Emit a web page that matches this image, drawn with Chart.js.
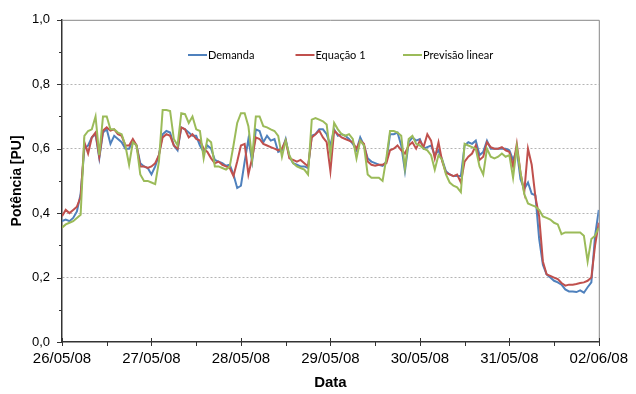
<!DOCTYPE html>
<html>
<head>
<meta charset="utf-8">
<script src="https://cdn.jsdelivr.net/npm/chart.js@4/dist/chart.umd.min.js"></script>
<style>
  body { margin: 0; background: #ffffff; }
  #wrap { width: 636px; height: 394px; }
</style>
</head>
<body>
<div id="wrap"><canvas id="chart0" width="636" height="394"></canvas></div>
<script>
// tick labels, one per day (24 h)
const dateLabels = ['26/05/08', '27/05/08', '28/05/08', '29/05/08', '30/05/08', '31/05/08', '02/06/08'];

// hourly time index
const hours = Array.from({ length: 145 }, (_, i) => i);

const demanda = [
    0.375, 0.38, 0.375, 0.385, 0.405, 0.46, 0.60, 0.61, 0.635, 0.645, 0.57, 0.65, 0.66, 0.615, 0.64, 0.63, 0.62, 0.60, 0.60, 0.625, 0.61, 0.555, 0.545, 0.54,
    0.52, 0.545, 0.58, 0.645, 0.655, 0.65, 0.61, 0.595, 0.666, 0.66, 0.65, 0.64, 0.64, 0.61, 0.59, 0.61, 0.60, 0.565, 0.56, 0.555, 0.547, 0.55, 0.52, 0.478,
    0.485, 0.56, 0.63, 0.56, 0.66, 0.655, 0.62, 0.64, 0.625, 0.63, 0.59, 0.595, 0.63, 0.575, 0.555, 0.55, 0.545, 0.545, 0.54, 0.64, 0.645, 0.66, 0.66, 0.645,
    0.61, 0.66, 0.64, 0.645, 0.64, 0.63, 0.615, 0.595, 0.635, 0.61, 0.57, 0.56, 0.555, 0.55, 0.547, 0.56, 0.645, 0.645, 0.65, 0.61, 0.53, 0.62, 0.635, 0.625,
    0.63, 0.60, 0.605, 0.61, 0.58, 0.595, 0.565, 0.53, 0.52, 0.515, 0.515, 0.515, 0.61, 0.62, 0.615, 0.625, 0.58, 0.59, 0.625, 0.60, 0.60, 0.60, 0.60, 0.60,
    0.595, 0.565, 0.595, 0.505, 0.475, 0.495, 0.46, 0.455, 0.32, 0.24, 0.21, 0.20, 0.19, 0.185, 0.178, 0.163, 0.157, 0.157, 0.155, 0.16, 0.153, 0.17, 0.185, 0.33, 0.41
];

const equacao1 = [
    0.39, 0.41, 0.40, 0.41, 0.42, 0.45, 0.62, 0.585, 0.635, 0.65, 0.575, 0.656, 0.666, 0.656, 0.66, 0.645, 0.64, 0.61, 0.61, 0.63, 0.61, 0.545, 0.545, 0.54,
    0.545, 0.555, 0.58, 0.635, 0.645, 0.64, 0.61, 0.60, 0.666, 0.66, 0.635, 0.645, 0.63, 0.625, 0.60, 0.59, 0.57, 0.555, 0.56, 0.55, 0.545, 0.54, 0.515, 0.56,
    0.61, 0.615, 0.52, 0.57, 0.635, 0.63, 0.615, 0.61, 0.605, 0.60, 0.595, 0.60, 0.625, 0.57, 0.565, 0.56, 0.565, 0.555, 0.545, 0.635, 0.645, 0.656, 0.635, 0.62,
    0.53, 0.656, 0.645, 0.635, 0.63, 0.625, 0.62, 0.60, 0.625, 0.615, 0.56, 0.55, 0.547, 0.55, 0.55, 0.555, 0.595, 0.60, 0.61, 0.595, 0.585, 0.61, 0.62, 0.60,
    0.625, 0.605, 0.645, 0.625, 0.57, 0.62, 0.56, 0.525, 0.52, 0.515, 0.52, 0.495, 0.56, 0.575, 0.585, 0.61, 0.565, 0.575, 0.62, 0.605, 0.60, 0.60, 0.605, 0.595,
    0.59, 0.545, 0.615, 0.525, 0.465, 0.60, 0.55, 0.45, 0.39, 0.25, 0.21, 0.205, 0.20, 0.195, 0.183, 0.175, 0.178, 0.178, 0.18, 0.183, 0.185, 0.19, 0.20, 0.30, 0.37
];

const previsaoLinear = [
    0.355, 0.365, 0.37, 0.375, 0.385, 0.395, 0.64, 0.655, 0.66, 0.70, 0.58, 0.70, 0.70, 0.66, 0.66, 0.65, 0.645, 0.61, 0.55, 0.62, 0.61, 0.52, 0.50, 0.50,
    0.495, 0.49, 0.56, 0.72, 0.72, 0.717, 0.63, 0.61, 0.71, 0.707, 0.68, 0.70, 0.66, 0.655, 0.57, 0.63, 0.62, 0.545, 0.545, 0.54, 0.535, 0.545, 0.61, 0.68,
    0.71, 0.71, 0.67, 0.57, 0.70, 0.70, 0.67, 0.666, 0.66, 0.655, 0.64, 0.575, 0.625, 0.58, 0.555, 0.545, 0.54, 0.535, 0.52, 0.69, 0.695, 0.69, 0.685, 0.675,
    0.58, 0.68, 0.66, 0.645, 0.64, 0.645, 0.63, 0.57, 0.625, 0.61, 0.52, 0.51, 0.51, 0.51, 0.50, 0.57, 0.655, 0.655, 0.65, 0.64, 0.54, 0.63, 0.64, 0.615,
    0.61, 0.60, 0.595, 0.58, 0.535, 0.58, 0.565, 0.52, 0.495, 0.485, 0.48, 0.465, 0.615, 0.61, 0.605, 0.60, 0.545, 0.52, 0.60, 0.575, 0.57, 0.575, 0.585, 0.575,
    0.58, 0.51, 0.605, 0.525, 0.46, 0.43, 0.425, 0.42, 0.41, 0.39, 0.385, 0.38, 0.37, 0.365, 0.335, 0.34, 0.34, 0.34, 0.34, 0.34, 0.33, 0.25, 0.32, 0.33, 0.355
];

const seriesLabels = ['Demanda', 'Equação 1', 'Previsão linear'];
const seriesColors = ['#4f81bd', '#c0504d', '#9bbb59'];

// legend drawn inside the plot area, like the excel one
const insideLegend = {
    id: 'insideLegend',
    afterDraw(chart) {
        const ctx = chart.ctx;
        ctx.save();
        ctx.font = '11px Lato';
        ctx.textBaseline = 'middle';
        chart.data.datasets.forEach((ds, i) => {
            const x = 188 + i * 107.5;
            const y = 55;
            ctx.strokeStyle = ds.borderColor;
            ctx.lineWidth = 2;
            ctx.beginPath();
            ctx.moveTo(x, y);
            ctx.lineTo(x + 19, y);
            ctx.stroke();
            ctx.fillStyle = '#000000';
            ctx.fillText(ds.label, x + 20, y + 0.5);
        });
        ctx.restore();
    }
};

// top/right frame and the tick marks (major + minor)
const frame = {
    id: 'frame',
    beforeDatasetsDraw(chart) {
        const { ctx, chartArea: a, scales: { x, y } } = chart;
        ctx.save();
        ctx.strokeStyle = '#868686';
        ctx.lineWidth = 1;
        ctx.beginPath();
        ctx.moveTo(a.left, a.top + 0.5);
        ctx.lineTo(a.right + 0.5, a.top + 0.5);
        ctx.lineTo(a.right + 0.5, a.bottom);
        ctx.stroke();

        ctx.strokeStyle = '#333333';
        ctx.beginPath();
        for (let k = 0; k <= 10; k++) {
            const py = Math.round(y.getPixelForValue(k / 10)) + 0.5;
            ctx.moveTo(a.left - (k % 2 === 0 ? 5 : 3), py);
            ctx.lineTo(a.left, py);
        }
        for (let h = 0; h <= 144; h += 12) {
            const px = Math.round(x.getPixelForValue(h)) + 0.5;
            ctx.moveTo(px, a.bottom - (h % 24 === 0 ? 4 : 0));
            ctx.lineTo(px, a.bottom + 4);
        }
        ctx.stroke();
        ctx.restore();
    }
};

function createChart() {
    const ctx = document.getElementById('chart0').getContext('2d');
    const values = [demanda, equacao1, previsaoLinear];
    return new Chart(ctx, {
        type: 'line',
        data: {
            labels: hours,
            datasets: values.map((v, i) => ({
                label: seriesLabels[i],
                data: v,
                borderColor: seriesColors[i],
                backgroundColor: seriesColors[i],
                borderWidth: 2,
                pointRadius: 0,
                tension: 0,
                order: 3 - i,
            })),
        },
        options: {
            responsive: false,
            devicePixelRatio: 1,
            animation: false,
            layout: { padding: { top: 14, right: 29, bottom: 0, left: 0 } },
            plugins: {
                legend: { display: false },
                tooltip: { enabled: false },
            },
            scales: {
                x: {
                    type: 'linear',
                    min: 0,
                    max: 144,
                    afterFit: (s) => { s.height = 52; },
                    ticks: {
                        stepSize: 24,
                        autoSkip: false,
                        maxRotation: 0,
                        padding: 8,
                        color: '#000000',
                        font: { family: 'Liberation Sans', size: 15 },
                        callback: (v) => dateLabels[Math.round(v / 24)],
                    },
                    grid: { drawOnChartArea: false, drawTicks: false },
                    border: { color: '#333333', width: 1.5 },
                    title: {
                        display: true,
                        text: 'Data',
                        color: '#000000',
                        font: { family: 'Liberation Sans', size: 15, weight: 'bold' },
                        padding: { top: 0, bottom: 2 },
                    },
                },
                y: {
                    min: 0,
                    max: 1,
                    afterFit: (s) => { s.width = 62; },
                    ticks: {
                        stepSize: 0.2,
                        padding: 12,
                        color: '#000000',
                        font: { family: 'Liberation Sans', size: 13 },
                        callback: (v) => v.toFixed(1).replace('.', ','),
                    },
                    grid: {
                        drawTicks: false,
                        lineWidth: 1,
                        color: (c) => (c.tick && c.tick.value > 0.01 && c.tick.value < 0.99) ? '#b4b4b4' : 'rgba(0,0,0,0)',
                    },
                    border: { color: '#333333', width: 1.5, dash: [2, 2] },
                    title: {
                        display: true,
                        text: 'Potência [PU]',
                        color: '#000000',
                        font: { family: 'Liberation Sans', size: 14, weight: 'bold' },
                        padding: { top: 9, bottom: 0 },
                    },
                },
            },
        },
        plugins: [frame, insideLegend],
    });
}

window.chart = createChart();
</script>
</body>
</html>
